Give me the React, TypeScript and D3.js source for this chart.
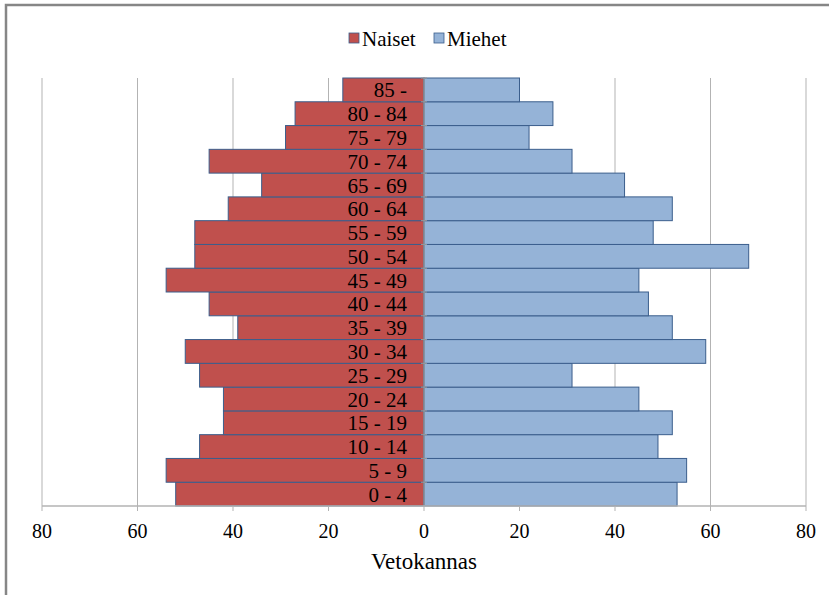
import React from "react";
import * as d3 from "d3";

const categories = ["0 - 4", "5 - 9", "10 - 14", "15 - 19", "20 - 24", "25 - 29", "30 - 34", "35 - 39", "40 - 44", "45 - 49", "50 - 54", "55 - 59", "60 - 64", "65 - 69", "70 - 74", "75 - 79", "80 - 84", "85 -"];
const naiset = [52, 54, 47, 42, 42, 47, 50, 39, 45, 54, 48, 48, 41, 34, 45, 29, 27, 17];
const miehet = [53, 55, 49, 52, 45, 31, 59, 52, 47, 45, 68, 48, 52, 42, 31, 22, 27, 20];
const xTicks = [-80, -60, -40, -20, 0, 20, 40, 60, 80];
const seriesNames = ["Naiset", "Miehet"];
const axisTitle = "Vetokannas";

const W = 829, H = 595;
const FONT = "Liberation Serif, DejaVu Serif, serif";
const RED = "#C0504D", BLUE = "#95B3D7", EDGE = "#3B5E8C", GRID = "#B3B3B3";

export default function App() {
  const x = d3.scaleLinear().domain([-80, 80]).range([42, 806]);
  const y = d3.scaleBand<string>().domain([...categories].reverse()).range([78, 506]).padding(0);
  const bw = y.bandwidth();
  const ts = { fontFamily: FONT };
  return (
    <svg width={W} height={H} style={{ position: "absolute", left: 0, top: 0, background: "#fff", fontFamily: FONT }}>
      <rect x={6} y={5} width={W + 20} height={H + 20} fill="none" stroke="#868686" strokeWidth={2.5} />
      {/* legend */}
      <g>
        <rect x={349} y={33} width={10} height={10} fill={RED} stroke={EDGE} strokeWidth={0.8} />
        <text x={362} y={46} fontSize={21} fill="#000" style={ts}>{seriesNames[0]}</text>
        <rect x={434} y={33} width={10} height={10} fill={BLUE} stroke={EDGE} strokeWidth={0.8} />
        <text x={447} y={46} fontSize={21} fill="#000" style={ts}>{seriesNames[1]}</text>
      </g>
      {/* grid */}
      {xTicks.map(t => (
        <line key={"g" + t} x1={x(t)} x2={x(t)} y1={78} y2={506} stroke={GRID} strokeWidth={1} />
      ))}
      {/* bars */}
      {categories.map((c, i) => (
        <g key={c}>
          <rect x={x(-naiset[i])} y={y(c)!} width={x(0) - x(-naiset[i])} height={bw} fill={RED} stroke={EDGE} strokeWidth={1} />
          <rect x={x(0)} y={y(c)!} width={x(miehet[i]) - x(0)} height={bw} fill={BLUE} stroke={EDGE} strokeWidth={1} />
        </g>
      ))}
      {/* category axis */}
      <line x1={x(0)} x2={x(0)} y1={78} y2={506} stroke="#9A9A9A" strokeWidth={1.2} />
      {categories.map(c => (
        <line key={"ct" + c} x1={x(0) - 3} x2={x(0) + 3} y1={y(c)!} y2={y(c)!} stroke="#9A9A9A" strokeWidth={1} />
      ))}
      {categories.map(c => (
        <text key={"l" + c} x={407} y={y(c)! + bw / 2 + 7.5} fontSize={21} textAnchor="end" fill="#000" style={ts}>{c}</text>
      ))}
      {/* value axis */}
      <line x1={42} x2={806} y1={506} y2={506} stroke={GRID} strokeWidth={1.5} />
      {xTicks.map(t => (
        <g key={"t" + t}>
          <line x1={x(t)} x2={x(t)} y1={506} y2={511} stroke={GRID} strokeWidth={1} />
          <text x={x(t)} y={538} fontSize={20} textAnchor="middle" fill="#000" style={ts}>{Math.abs(t)}</text>
        </g>
      ))}
      <text x={x(0)} y={569} fontSize={23} textAnchor="middle" fill="#000" style={ts}>{axisTitle}</text>
    </svg>
  );
}
